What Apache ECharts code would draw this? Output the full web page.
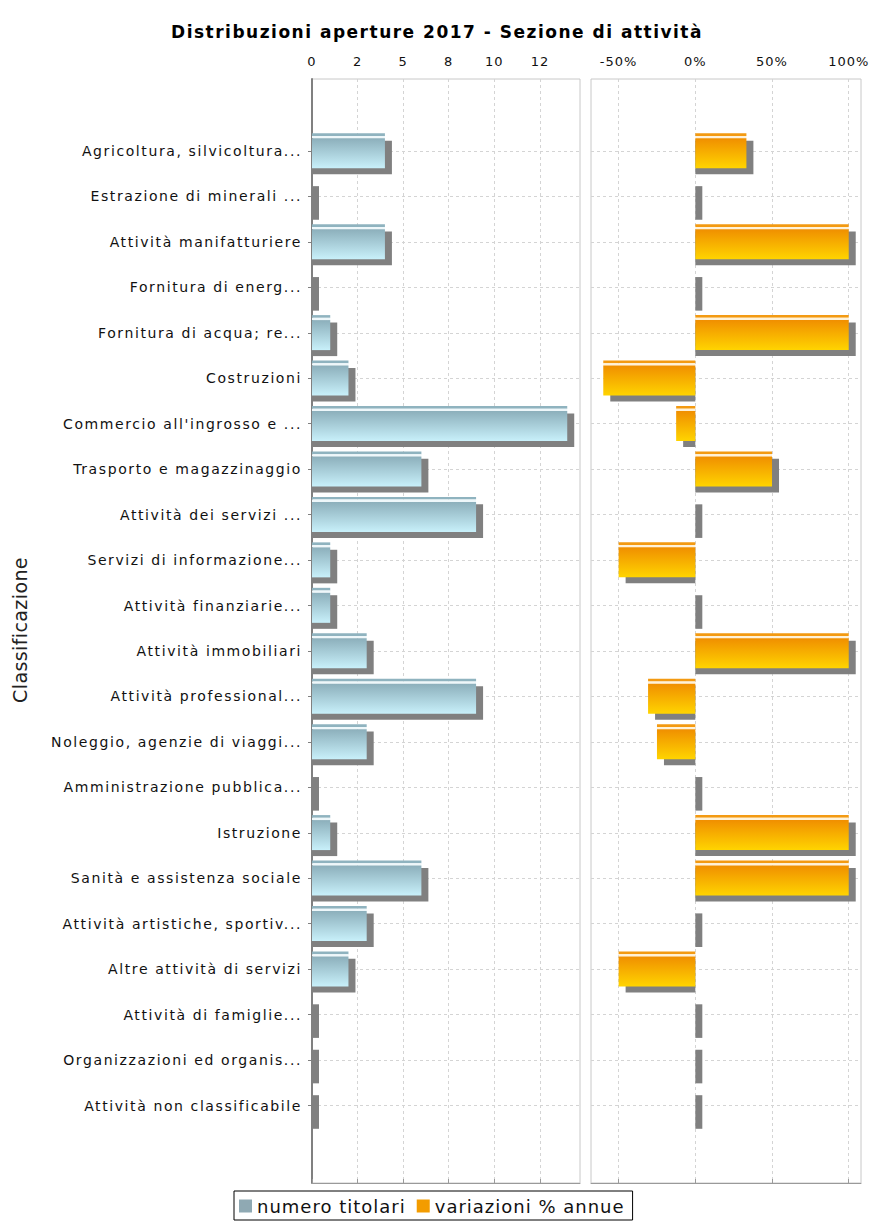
<!DOCTYPE html>
<html>
<head>
<meta charset="utf-8">
<script src="https://cdn.jsdelivr.net/npm/echarts@6/dist/echarts.min.js"></script>
<style>
  html, body { margin: 0; padding: 0; background: #fff; }
  #chart { width: 874px; height: 1224px; }
</style>
</head>
<body>
<div id="chart"></div>
<script>
// Sezioni di attività (ATECO), top to bottom
const categories = [
  'Agricoltura, silvicoltura...',
  'Estrazione di minerali ...',
  'Attività manifatturiere',
  'Fornitura di energ...',
  'Fornitura di acqua; re...',
  'Costruzioni',
  "Commercio all'ingrosso e ...",
  'Trasporto e magazzinaggio',
  'Attività dei servizi ...',
  'Servizi di informazione...',
  'Attività finanziarie...',
  'Attività immobiliari',
  'Attività professional...',
  'Noleggio, agenzie di viaggi...',
  'Amministrazione pubblica...',
  'Istruzione',
  'Sanità e assistenza sociale',
  'Attività artistiche, sportiv...',
  'Altre attività di servizi',
  'Attività di famiglie...',
  'Organizzazioni ed organis...',
  'Attività non classificabile'
];

// numero titolari (aperture 2017)
const titolari = [4, 0, 4, 0, 1, 2, 14, 6, 9, 1, 1, 3, 9, 3, 0, 1, 6, 3, 2, 0, 0, 0];

// variazioni % annue
const variazioni = [33.3, 0, 100, 0, 100, -60, -12.5, 50, 0, -50, 0, 100, -30.8, -25, 0, 100, 100, 0, -50, 0, 0, 0];

const countTickValues = [0, 2.5, 5, 7.5, 10, 12.5];
const countTickLabels = ['0', '2', '5', '8', '10', '12'];
const pctTickValues = [-50, 0, 50, 100];
const pctTickLabels = ['-50%', '0%', '50%', '100%'];

const countRange = [0, 14.7];
const pctRange = [-68, 108];

const FONT = 'DejaVu Sans';
const chart = echarts.init(document.getElementById('chart'), null, { renderer: 'svg' });

// Bars with a thin top stripe, a gradient body and a grey drop shadow
function makeBarRenderer(c) {
  return function (params, api) {
    const v = api.value(0);
    const i = api.value(1);
    const base = api.coord([0, i]);
    const tip = api.coord([v, i]);
    const cy = base[1];
    const top = cy - 17.7;
    const x0 = Math.min(base[0], tip[0]);
    const w = Math.abs(tip[0] - base[0]);
    const s0 = Math.min(base[0], tip[0] + 7);
    const sw = Math.abs(tip[0] + 7 - base[0]);
    return {
      type: 'group',
      children: [
        { type: 'rect', shape: { x: s0, y: top + 7.4, width: sw, height: 33.6 }, style: { fill: '#808080' } },
        { type: 'rect', shape: { x: x0, y: top, width: w, height: 2.7 }, style: { fill: c.stripe } },
        { type: 'rect', shape: { x: x0, y: top + 2.7, width: w, height: 2.3 }, style: { fill: c.gap } },
        {
          type: 'rect',
          shape: { x: x0, y: top + 5, width: w, height: 30 },
          style: {
            fill: new echarts.graphic.LinearGradient(0, 0, 0, 1, [
              { offset: 0, color: c.top },
              { offset: 1, color: c.bottom }
            ])
          }
        }
      ]
    };
  };
}

const blue = { stripe: '#8fb3bf', gap: '#eef7fa', top: '#8cafbb', bottom: '#c8f0fa' };
const orange = { stripe: '#f39a12', gap: '#fff2d8', top: '#f08f00', bottom: '#ffd400' };

const frameTop = 79, frameHeight = 1104;
const dataTop = 151, dataHeight = 954.5;

function frameXAxis(gridIndex, range, values, labels) {
  return {
    type: 'value', gridIndex, position: 'top', min: range[0], max: range[1],
    axisLine: { show: true, lineStyle: { color: '#9a9a9a', width: 1 } },
    axisTick: { show: true, length: 4, inside: false, customValues: values, lineStyle: { color: '#9a9a9a' } },
    axisLabel: {
      show: true, customValues: values, margin: 11, fontSize: 13, color: '#111', fontFamily: FONT,
      formatter: function (val) {
        const k = values.findIndex(t => Math.abs(t - val) < 1e-6);
        return k >= 0 ? labels[k] : '';
      }
    },
    splitLine: { show: true, lineStyle: { color: '#d4d4d4', type: [3, 3], width: 1 } }
  };
}

function dataXAxis(gridIndex, range) {
  return { type: 'value', gridIndex, min: range[0], max: range[1], show: false };
}

function dataYAxis(gridIndex, withLabels) {
  return {
    type: 'category', gridIndex, data: categories, inverse: true, boundaryGap: false,
    axisLine: { show: false },
    axisTick: { show: withLabels, length: 4, lineStyle: { color: '#808080' } },
    axisLabel: { show: withLabels, fontSize: 14, color: '#111', margin: 10, fontFamily: FONT },
    splitLine: { show: true, lineStyle: { color: '#d4d4d4', type: [3, 3], width: 1 } }
  };
}

const option = {
  animation: false,
  backgroundColor: '#ffffff',
  textStyle: { fontFamily: FONT },
  title: {
    text: 'Distribuzioni aperture 2017 - Sezione di attività',
    left: 'center', top: 18,
    textStyle: { fontSize: 17, fontWeight: 'bold', color: '#000', fontFamily: FONT }
  },
  legend: {
    data: ['numero titolari', 'variazioni % annue'],
    left: 234, top: 1191,
    icon: 'rect', itemWidth: 13, itemHeight: 13, itemGap: 26,
    borderColor: '#000', borderWidth: 1, padding: [6, 26, 5, 5],
    textStyle: { fontSize: 18, color: '#111', fontFamily: FONT }
  },
  graphic: [{
    type: 'text', x: 20, y: 630, rotation: Math.PI / 2,
    style: { text: 'Classificazione', fontSize: 19, fill: '#222', fontFamily: FONT, align: 'center', verticalAlign: 'middle' }
  }],
  grid: [
    { left: 312, top: frameTop, width: 268, height: frameHeight, show: true, borderColor: '#c8c8c8', borderWidth: 1 },
    { left: 312, top: dataTop, width: 268, height: dataHeight },
    { left: 591, top: frameTop, width: 270, height: frameHeight, show: true, borderColor: '#c8c8c8', borderWidth: 1 },
    { left: 591, top: dataTop, width: 270, height: dataHeight }
  ],
  xAxis: [
    frameXAxis(0, countRange, countTickValues, countTickLabels),
    dataXAxis(1, countRange),
    frameXAxis(2, pctRange, pctTickValues, pctTickLabels),
    dataXAxis(3, pctRange)
  ],
  yAxis: [
    { type: 'value', gridIndex: 0, min: 0, max: 1, axisLabel: { show: false }, axisTick: { show: false }, splitLine: { show: false },
      axisLine: { show: true, lineStyle: { color: '#808080', width: 2 } } },
    dataYAxis(1, true),
    { type: 'value', gridIndex: 2, min: 0, max: 1, show: false },
    dataYAxis(3, false)
  ],
  series: [
    {
      name: 'numero titolari', type: 'custom', xAxisIndex: 1, yAxisIndex: 1,
      itemStyle: { color: '#8fa9b3' },
      renderItem: makeBarRenderer(blue),
      encode: { x: 0, y: 1 },
      data: titolari.map((v, i) => [v, i])
    },
    {
      name: 'variazioni % annue', type: 'custom', xAxisIndex: 3, yAxisIndex: 3,
      itemStyle: { color: '#f39c00' },
      renderItem: makeBarRenderer(orange),
      encode: { x: 0, y: 1 },
      data: variazioni.map((v, i) => [v, i])
    }
  ]
};

// Wider tracking for the text, set per font size on the SVG text nodes
const trackingBySize = { 13: '1px', 14: '1.6px', 17: '1.5px', 18: '1px', 19: '0.4px' };
function applyTracking() {
  document.querySelectorAll('#chart svg text').forEach(function (t) {
    const fs = Math.round(parseFloat(getComputedStyle(t).fontSize));
    if (trackingBySize[fs]) t.setAttribute('letter-spacing', trackingBySize[fs]);
  });
}
chart.on('finished', applyTracking);
chart.setOption(option);
applyTracking();
</script>
</body>
</html>
